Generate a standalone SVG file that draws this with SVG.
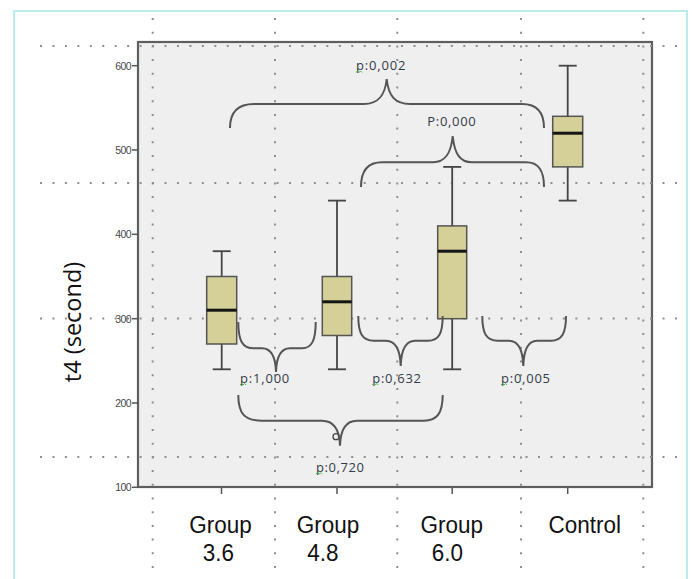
<svg xmlns="http://www.w3.org/2000/svg" width="692" height="579" viewBox="0 0 692 579">
  <style>
    .grid-h { stroke: #8e8e8e; stroke-width: 2; stroke-dasharray: 2 10.45; fill: none; }
    .grid-v { stroke: #8e8e8e; stroke-width: 2; stroke-dasharray: 2 11.7; fill: none; }
    .frame { fill: #efefef; stroke: #5e5e5e; stroke-width: 2.2; }
    .tick { stroke: #555; stroke-width: 1.5; }
    .ticklbl { font-family: "Liberation Sans", Arial, sans-serif; font-size: 10.5px; fill: #474747; text-anchor: end; letter-spacing: -0.6px; }
    .box { fill: #d5cf98; stroke: #555; stroke-width: 1.5; }
    .median { stroke: #151515; stroke-width: 3; }
    .whisker { stroke: #444; stroke-width: 1.8; fill: none; }
    .brace { stroke: #555; stroke-width: 2; fill: none; }
    .pval { font-family: "Open Sans", "Liberation Sans", sans-serif; font-size: 13px; fill: #343b48; }
    .squiggle { stroke: #4caf50; stroke-width: 1; fill: none; }
    .cat { font-family: "Liberation Sans", Arial, sans-serif; font-size: 22.5px; fill: #111; text-anchor: middle; }
    .axis-title { font-family: "Open Sans", "Liberation Sans", sans-serif; font-size: 23.5px; fill: #111; text-anchor: middle; }
  </style>

  <!-- outer frame -->
  <rect x="14" y="11" width="673" height="590" fill="#ffffff" stroke="#a6e3e8" stroke-width="1.5"/>

  <!-- plot area -->
  <rect class="frame" x="138" y="42" width="514" height="445"/>

  <!-- dotted grid -->
  <g id="grid">
    <line class="grid-h" x1="40" y1="46" x2="684" y2="46"/>
    <line class="grid-h" x1="40" y1="183" x2="684" y2="183"/>
    <line class="grid-h" x1="40" y1="318.5" x2="684" y2="318.5"/>
    <line class="grid-h" x1="40" y1="457" x2="684" y2="457"/>
    <line class="grid-v" x1="152.7" y1="18" x2="152.7" y2="579"/>
    <line class="grid-v" x1="275" y1="18" x2="275" y2="579"/>
    <line class="grid-v" x1="397.3" y1="18" x2="397.3" y2="579"/>
    <line class="grid-v" x1="521" y1="18" x2="521" y2="579"/>
    <line class="grid-v" x1="643.3" y1="18" x2="643.3" y2="579"/>
  </g>

  <!-- y axis ticks and labels -->
  <g id="y-axis">
    <line class="tick" x1="132" y1="65.7" x2="138" y2="65.7"/>
    <line class="tick" x1="132" y1="150" x2="138" y2="150"/>
    <line class="tick" x1="132" y1="234.3" x2="138" y2="234.3"/>
    <line class="tick" x1="132" y1="318.7" x2="138" y2="318.7"/>
    <line class="tick" x1="132" y1="403" x2="138" y2="403"/>
    <line class="tick" x1="132" y1="487.3" x2="138" y2="487.3"/>
    <text class="ticklbl" x="131" y="69.5">600</text>
    <text class="ticklbl" x="131" y="153.8">500</text>
    <text class="ticklbl" x="131" y="238.1">400</text>
    <text class="ticklbl" x="131" y="322.5">300</text>
    <text class="ticklbl" x="131" y="406.8">200</text>
    <text class="ticklbl" x="131" y="491.1">100</text>
    <text class="axis-title" transform="translate(81,322) rotate(-90)">t4 (second)</text>
  </g>

  <!-- x axis ticks -->
  <g id="x-axis">
    <line class="tick" x1="221.5" y1="488" x2="221.5" y2="494" stroke-width="1"/>
    <line class="tick" x1="337" y1="488" x2="337" y2="494" stroke-width="1"/>
    <line class="tick" x1="452.2" y1="488" x2="452.2" y2="494" stroke-width="1"/>
    <line class="tick" x1="567.7" y1="488" x2="567.7" y2="494" stroke-width="1"/>
  </g>

  <!-- box plots -->
  <g id="box-3-6">
    <line class="whisker" x1="221.7" y1="251.2" x2="221.7" y2="369.3"/>
    <line class="whisker" x1="212.7" y1="251.2" x2="230.7" y2="251.2"/>
    <line class="whisker" x1="212.7" y1="369.3" x2="230.7" y2="369.3"/>
    <rect class="box" x="206.7" y="276.5" width="30" height="67.5"/>
    <line class="median" x1="206.7" y1="310.2" x2="236.7" y2="310.2"/>
  </g>
  <g id="box-4-8">
    <line class="whisker" x1="337" y1="200.6" x2="337" y2="369.3"/>
    <line class="whisker" x1="328" y1="200.6" x2="346" y2="200.6"/>
    <line class="whisker" x1="328" y1="369.3" x2="346" y2="369.3"/>
    <rect class="box" x="322.3" y="276.5" width="29.4" height="59"/>
    <line class="median" x1="322.3" y1="301.8" x2="351.7" y2="301.8"/>
    <circle cx="336" cy="436.7" r="3" fill="none" stroke="#444" stroke-width="1.3"/>
  </g>
  <g id="box-6-0">
    <line class="whisker" x1="452.2" y1="166.9" x2="452.2" y2="369.3"/>
    <line class="whisker" x1="443.2" y1="166.9" x2="461.2" y2="166.9"/>
    <line class="whisker" x1="443.2" y1="369.3" x2="461.2" y2="369.3"/>
    <rect class="box" x="437.7" y="225.9" width="29" height="92.8"/>
    <line class="median" x1="437.7" y1="251.2" x2="466.7" y2="251.2"/>
  </g>
  <g id="box-control">
    <line class="whisker" x1="567.7" y1="65.7" x2="567.7" y2="200.6"/>
    <line class="whisker" x1="558.7" y1="65.7" x2="576.7" y2="65.7"/>
    <line class="whisker" x1="558.7" y1="200.6" x2="576.7" y2="200.6"/>
    <rect class="box" x="552.7" y="116.3" width="30" height="50.6"/>
    <line class="median" x1="552.7" y1="133.2" x2="582.7" y2="133.2"/>
  </g>

  <!-- comparison braces -->
  <g id="connectors">
    <path class="brace" d="M230,128 C230,112 238,104 254,104 L364,104 C378,104 385,96 386.7,79 C388.5,96 395,104 410,104 L522,104 C537,104 544,112 544,128"/>
    <path class="brace" d="M361,187 C361,171 368,162.3 382,162.3 L433,162.3 C445,162.3 451,154 452.7,136 C454.5,154 460,162.3 472,162.3 L526,162.3 C539,162.3 544,171 544,187"/>
    <path class="brace" d="M238.3,322 C238.3,340 242,348.3 254,348.3 L262,348.3 C271,348.3 275.5,356 276,372 C276.5,356 281,348.3 290,348.3 L302,348.3 C312,348.3 315.7,340 315.7,322"/>
    <path class="brace" d="M358.3,316 C358.3,333 362,340.7 374,340.7 L386,340.7 C395,340.7 400.2,349 400.7,366 C401.2,349 406,340.7 415,340.7 L428,340.7 C439,340.7 442.7,333 442.7,316"/>
    <path class="brace" d="M482.3,316 C482.3,333 486,340.7 498,340.7 L509,340.7 C518,340.7 522.8,349 523.3,366 C523.8,349 528,340.7 537,340.7 L551,340.7 C562,340.7 566,333 566,316"/>
    <path class="brace" d="M238.3,395 C238.3,413 244,420.7 262,420.7 L322,420.7 C333,420.7 339.5,429 340,445.7 C340.5,429 346,420.7 357,420.7 L424,420.7 C437,420.7 442.7,413 442.7,395"/>
  </g>

  <!-- p-value labels -->
  <g id="labels">
    <text class="pval" x="356" y="70" textLength="49.5">p:0,002</text>
    <path class="squiggle" d="M356,72.5 l1.5,-1.5 l1.5,1.5 l1.5,-1.5 l1.5,1.5"/>
    <text class="pval" x="427.3" y="126" textLength="48.5">P:0,000</text>
    <text class="pval" x="240" y="382.5" textLength="49.3">p:1,000</text>
    <path class="squiggle" d="M240,385 l1.5,-1.5 l1.5,1.5 l1.5,-1.5 l1.5,1.5"/>
    <text class="pval" x="372.3" y="382.5" textLength="48.7">p:0,632</text>
    <path class="squiggle" d="M372.3,385 l1.5,-1.5 l1.5,1.5 l1.5,-1.5 l1.5,1.5"/>
    <text class="pval" x="501" y="382.5" textLength="49">p:0,005</text>
    <path class="squiggle" d="M501,385 l1.5,-1.5 l1.5,1.5 l1.5,-1.5 l1.5,1.5"/>
    <text class="pval" x="316" y="471.7" textLength="48">p:0,720</text>
    <path class="squiggle" d="M316,474.2 l1.5,-1.5 l1.5,1.5 l1.5,-1.5 l1.5,1.5"/>
  </g>

  <!-- category labels -->
  <g id="categories">
    <text class="cat" transform="translate(220.5,533) scale(1,1.1)">Group</text>
    <text class="cat" transform="translate(218.5,561) scale(1,1.1)">3.6</text>
    <text class="cat" transform="translate(328,533) scale(1,1.1)">Group</text>
    <text class="cat" transform="translate(323,561) scale(1,1.1)">4.8</text>
    <text class="cat" transform="translate(451.7,533) scale(1,1.1)">Group</text>
    <text class="cat" transform="translate(447.3,561) scale(1,1.1)">6.0</text>
    <text class="cat" transform="translate(584.7,533) scale(1,1.1)">Control</text>
  </g>
</svg>
